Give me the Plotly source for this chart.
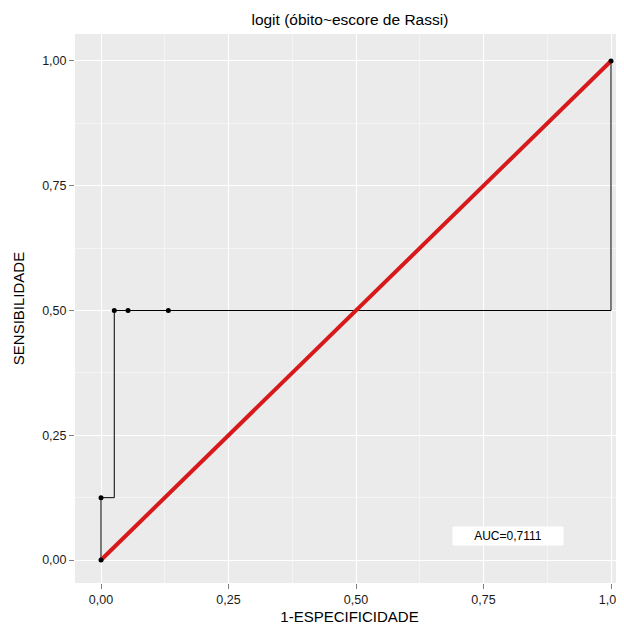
import plotly.graph_objects as go

# ROC data (1-specificity, sensitivity)
fpr = [0.0, 0.0, 0.026, 0.053, 0.132, 1.0]
tpr = [0.0, 0.125, 0.5, 0.5, 0.5, 1.0]
diag_x = [0.0, 1.0]
diag_y = [0.0, 1.0]
tick_vals = [0.0, 0.25, 0.5, 0.75, 1.0]
tick_text = ["0,00", "0,25", "0,50", "0,75", "1,00"]
auc_text = "AUC=0,7111"

font_family = "Liberation Sans, Arial, Helvetica, sans-serif"

fig = go.Figure()
fig.add_trace(go.Scatter(x=fpr, y=tpr, mode="lines", line=dict(color="black", width=1, shape="hv"),
                         showlegend=False, hoverinfo="skip", cliponaxis=False))
fig.add_trace(go.Scatter(x=diag_x, y=diag_y, mode="lines", line=dict(color="#D7191C", width=4),
                         showlegend=False, hoverinfo="skip"))
fig.add_trace(go.Scatter(x=fpr, y=tpr, mode="markers", marker=dict(color="black", size=5),
                         showlegend=False, hoverinfo="skip"))

fig.add_annotation(x=0.798, y=0.048, xref="x", yref="y", text=auc_text, showarrow=False,
                   bgcolor="white", font=dict(size=12, color="black", family=font_family),
                   width=108, height=16)

axis_common = dict(
    tickvals=tick_vals, ticktext=tick_text, showgrid=True, gridcolor="white", gridwidth=1.3,
    zeroline=False, ticks="outside", ticklen=5, tickcolor="#7F7F7F", showline=False,
    tickfont=dict(size=12.5, color="#1A1A1A", family=font_family),
    minor=dict(showgrid=True, gridcolor="#F4F4F4", gridwidth=0.6, dtick=0.125, tick0=0.125),
)

fig.update_layout(
    width=616, height=617,
    margin=dict(l=67, r=0, t=26, b=42),
    paper_bgcolor="white", plot_bgcolor="#EBEBEB",
    font=dict(family=font_family, color="black"),
    title=dict(text="logit (óbito~escore de Rassi)", x=0.555, xanchor="center", y=0.982, yanchor="middle",
               font=dict(size=15.5, color="black", family=font_family)),
    xaxis=dict(range=[-0.051, 1.0255], title=dict(text="1-ESPECIFICIDADE", standoff=7,
               font=dict(size=15, family=font_family)), **axis_common),
    yaxis=dict(range=[-0.046, 1.054], title=dict(text="SENSIBILIDADE", standoff=13,
               font=dict(size=15, family=font_family)), **axis_common),
)

fig.write_html("out.html")
